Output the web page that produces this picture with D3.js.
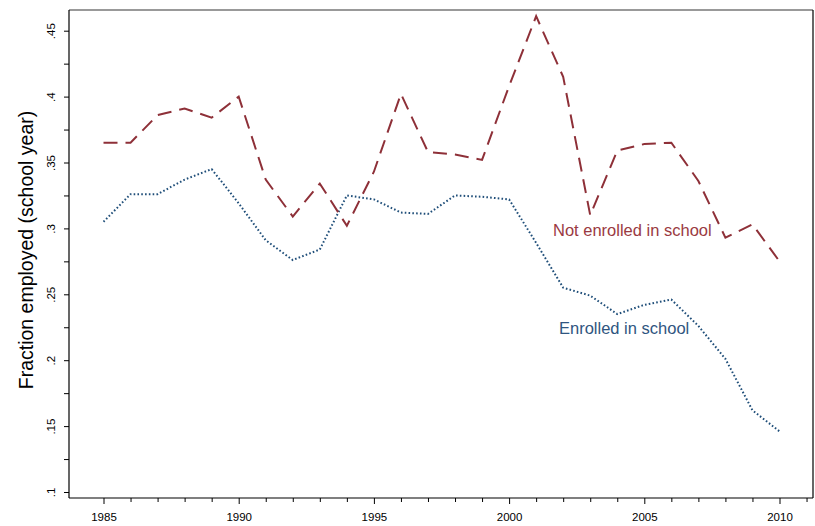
<!DOCTYPE html>
<html>
<head>
<meta charset="utf-8">
<script src="https://cdn.jsdelivr.net/npm/d3@7"></script>
<style>
  body { margin: 0; background: #fff; }
  svg { display: block; font-family: "Liberation Sans", Arial, sans-serif; }
</style>
</head>
<body>
<div id="chart"></div>
<script>
// datos
const years = d3.range(1985, 2011);
const notEnrolled = [0.365, 0.365, 0.386, 0.391, 0.384, 0.400, 0.337, 0.309, 0.334, 0.302,
  0.343, 0.402, 0.358, 0.356, 0.352, 0.408, 0.461, 0.415, 0.310, 0.359,
  0.364, 0.365, 0.336, 0.293, 0.303, 0.275];
const enrolled = [0.305, 0.326, 0.326, 0.337, 0.345, 0.319, 0.291, 0.276, 0.284, 0.325,
  0.322, 0.312, 0.311, 0.325, 0.324, 0.322, 0.289, 0.255, 0.249, 0.235,
  0.242, 0.246, 0.226, 0.201, 0.162, 0.146];
const yTicks = [0.1, 0.15, 0.2, 0.25, 0.3, 0.35, 0.4, 0.45];
const yMinorTicks = [0.125, 0.175, 0.225, 0.275, 0.325, 0.375, 0.425];
const xTicks = [1985, 1990, 1995, 2000, 2005, 2010];
const xMinorTicks = d3.range(1985, 2012);

const width = 815, height = 526;
const plotLeft = 69, plotRight = 813, plotTop = 10, plotBottom = 498;

const svg = d3.select('#chart').append('svg')
  .attr('width', width).attr('height', height);

// escalas
const x = d3.scaleLinear().domain([1985, 2010]).range([103.5, 779.5]);
const y = d3.scaleLinear().domain([0.1, 0.45]).range([492, 30.7]);

// marco
svg.append('line').attr('x1', plotLeft).attr('x2', plotRight).attr('y1', plotTop).attr('y2', plotTop)
  .style('stroke', '#777').style('stroke-width', 1.5);
svg.append('line').attr('x1', plotRight).attr('x2', plotRight).attr('y1', plotTop).attr('y2', plotBottom)
  .style('stroke', '#000').style('stroke-width', 1.2);

// eje y
const yAxis = svg.append('g').attr('transform', `translate(${plotLeft},0)`)
  .call(d3.axisLeft(y).tickValues(yTicks).tickSize(5)
    .tickFormat(d => d3.format('.2~f')(d).replace(/^0/, '')));
yAxis.select('.domain').attr('d', `M0,${plotTop}V${plotBottom}`).style('stroke-width', 1.2);
yAxis.selectAll('.tick line').style('stroke-width', 1);
yAxis.selectAll('.tick text')
  .attr('transform', 'rotate(-90)')
  .attr('x', 0).attr('y', -14).attr('dy', 0)
  .attr('text-anchor', 'middle')
  .style('font-size', '11.5px').style('fill', '#000');
svg.append('g').attr('transform', `translate(${plotLeft},0)`)
  .call(d3.axisLeft(y).tickValues(yMinorTicks).tickSize(5).tickFormat(''))
  .call(g => g.select('.domain').remove());

// eje x
const xAxis = svg.append('g').attr('transform', `translate(0,${plotBottom})`)
  .call(d3.axisBottom(x).tickValues(xTicks).tickSize(6).tickFormat(d3.format('d')));
xAxis.select('.domain').attr('d', `M${plotLeft},0H${plotRight}`).style('stroke-width', 1.2);
xAxis.selectAll('.tick text').attr('y', 15).style('font-size', '11.5px').style('fill', '#000');
svg.append('g').attr('transform', `translate(0,${plotBottom})`)
  .call(d3.axisBottom(x).tickValues(xMinorTicks.filter(d => !xTicks.includes(d))).tickSize(4).tickFormat(''))
  .call(g => g.select('.domain').remove());

// titulo eje y
svg.append('text')
  .attr('transform', `translate(33,250) rotate(-90)`)
  .attr('text-anchor', 'middle')
  .style('font-size', '19.5px')
  .text('Fraction employed (school year)');

// lineas
const line = d3.line().x(d => x(d[0])).y(d => y(d[1]));

svg.append('path')
  .datum(years.map((yr, i) => [yr, enrolled[i]]))
  .attr('d', line)
  .style('fill', 'none').style('stroke', '#1f4e79')
  .style('stroke-width', 2).style('stroke-dasharray', '1.6,2.2');

svg.append('path')
  .datum(years.map((yr, i) => [yr, notEnrolled[i]]))
  .attr('d', line)
  .style('fill', 'none').style('stroke', '#8e3038')
  .style('stroke-width', 2).style('stroke-dasharray', '14,8');

// etiquetas
svg.append('text').attr('x', 553).attr('y', 236)
  .style('font-size', '16.5px').style('fill', '#9a3a42')
  .text('Not enrolled in school');
svg.append('text').attr('x', 559).attr('y', 334)
  .style('font-size', '16.5px').style('fill', '#2f5580')
  .text('Enrolled in school');
</script>
</body>
</html>
